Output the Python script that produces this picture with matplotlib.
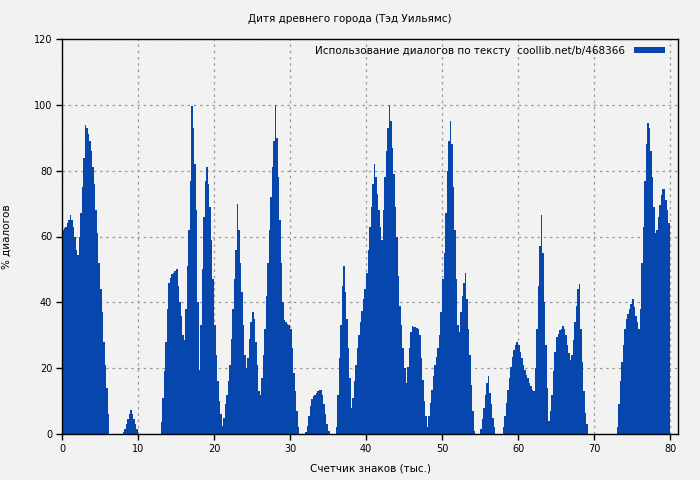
import numpy as np
import matplotlib
matplotlib.use("Agg")
import matplotlib.pyplot as plt

# --- Data: % of dialogue per 0.2 thousand characters -------------------------
step = 0.2  # thousand characters per bar

pct_00_10 = [62, 62.5, 63, 64, 65, 66.5, 65, 63, 60, 56,
             54.5, 60, 67, 75, 84, 94, 93, 91, 89, 86,
             81, 76, 68, 61, 52, 44, 37, 28, 21, 14,
             6, 0, 0, 0, 0, 0, 0, 0, 0, 0,
             0.5, 1.5, 3, 4.5, 6, 7.2, 6, 4.5, 3, 1.5]

pct_10_20 = [0, 0, 0, 0, 0, 0, 0, 0, 0, 0,
             0, 0, 0, 0, 0, 3.5, 11, 19, 28, 38,
             46, 47.5, 48.5, 49, 49.5, 50, 45, 40, 36, 30,
             28.5, 38, 51, 62, 77, 99.5, 93, 82, 68, 40,
             19.5, 33, 50, 66, 77, 81, 76, 69, 59, 47]

pct_20_30 = [33, 24, 16, 10, 6, 2.5, 5, 9, 12, 16,
             21, 29, 38, 47, 56, 70, 62, 52, 43, 33,
             24, 20, 23, 29, 34, 37, 35, 28, 21, 13,
             12, 17, 24, 32, 42, 52, 62, 72, 81, 89,
             100, 90, 78, 65, 52, 40, 34.5, 34, 33.5, 33]

pct_30_40 = [32, 26, 18.5, 13, 7, 2, 0, 0, 0, 0,
             0.5, 2.5, 5.5, 8.5, 10.5, 11.5, 12, 12.5, 13, 13.3,
             13.5, 12, 9, 6, 3, 1, 0, 0, 0, 0,
             2, 12, 23, 33, 45, 51, 43, 35, 26, 17,
             8, 11, 16, 21, 26, 30, 34, 37.5, 41, 44]

pct_40_50 = [49, 56, 63, 69, 76, 82, 78, 73, 68, 63,
             59, 68, 78, 86, 93, 100, 95, 87, 79, 69,
             60, 48, 39, 33, 26, 20, 15.5, 20.5, 26, 31,
             32.8, 32.6, 32.4, 32.2, 31.8, 30, 23, 16.5, 10, 5.5,
             2, 5.5, 9.5, 13.5, 17.5, 21, 23.5, 26, 30, 37]

pct_50_60 = [47, 55, 67, 80, 89, 95, 88, 75, 62, 47,
             33, 31, 37, 42, 46, 49, 41, 32, 24, 15,
             7, 1, 0, 0, 0, 1.5, 4.5, 8, 12, 15.5,
             17.5, 12.5, 9, 5, 2, 0, 0, 0, 0, 0,
             2, 5.5, 9.5, 13.5, 17, 20.5, 23.5, 25.5, 27, 28]

pct_60_70 = [27, 25, 23, 21, 19.5, 18, 17, 15.5, 14.5, 13.5,
             13, 20, 32, 45, 57, 66.5, 55, 40, 27, 14,
             4, 7, 12, 19, 25, 29.5, 30.5, 31.5, 32, 32.8,
             32, 30, 27, 24.5, 22.5, 24, 28.5, 34, 39, 44,
             45.5, 32, 22, 13, 6.5, 3, 0, 0, 0, 0]

pct_70_80 = [0, 0, 0, 0, 0, 0, 0, 0, 0, 0,
             0, 0, 0, 0, 0, 2, 9, 16, 22, 27,
             32, 35, 36.5, 38, 39.5, 41, 38.5, 36, 34, 32,
             38, 52, 63, 77, 88, 94.5, 93, 86, 78, 69,
             61, 62, 66, 69.5, 72.5, 74.5, 74.5, 71, 68, 64]

values = np.array(pct_00_10 + pct_10_20 + pct_20_30 + pct_30_40 +
                  pct_40_50 + pct_50_60 + pct_60_70 + pct_70_80)
positions = np.arange(len(values)) * step

title = "Дитя древнего города (Тэд Уильямс)"
legend_label = "Использование диалогов по тексту  coollib.net/b/468366"
xlabel = "Счетчик знаков (тыс.)"
ylabel = "% диалогов"
xticks = [0, 10, 20, 30, 40, 50, 60, 70, 80]
yticks = [0, 20, 40, 60, 80, 100, 120]

# --- Style --------------------------------------------------------------------
bg = "#f2f2f2"
bar_color = "#0746ad"
plt.rcParams["font.family"] = ["DejaVu Sans"]

fig = plt.figure(figsize=(7.0, 4.8), dpi=100, facecolor=bg)
ax = fig.add_axes([62 / 700, 46 / 480, (678 - 62) / 700, (434 - 39) / 480])
ax.set_facecolor(bg)

ax.bar(positions, values, width=step, align="edge", color=bar_color,
       linewidth=0, antialiased=False, label=legend_label, zorder=2)

ax.set_xlim(0, 81.05)
ax.set_ylim(0, 120)
ax.set_xticks(xticks)
ax.set_yticks(yticks)
ax.tick_params(axis="both", labelsize=7, length=4, width=1, direction="out",
               colors="black", pad=3)
ax.grid(True, color="#999999", linestyle=(0, (2, 3)), linewidth=0.9)
ax.set_axisbelow(True)
for sp in ax.spines.values():
    sp.set_linewidth(1.0)
    sp.set_color("black")
    sp.set_zorder(5)

ax.set_xlabel(xlabel, fontsize=7.5, labelpad=7)
ax.set_ylabel(ylabel, fontsize=7.5, labelpad=16)
fig.text(0.5, 1 - 19 / 480, title, ha="center", va="center", fontsize=7.5)

leg = ax.legend(loc="upper right", bbox_to_anchor=(0.9854, 0.994),
                frameon=False, markerfirst=False,
                fontsize=7.5, handlelength=3.0, handleheight=0.55,
                borderaxespad=0.0, handletextpad=0.8)

fig.savefig("out.png", dpi=100, facecolor=bg)
